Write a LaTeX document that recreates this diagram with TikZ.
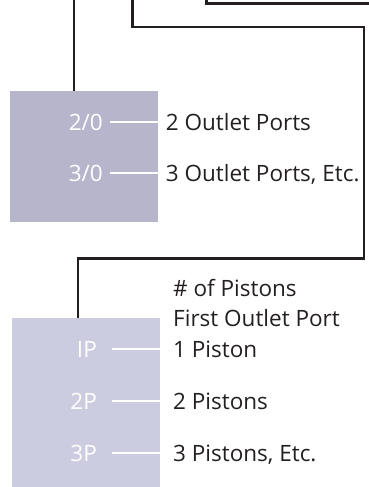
\documentclass[tikz,border=0pt]{standalone}
\usepackage{fontspec}
\setmainfont{Open Sans}
\definecolor{boxA}{HTML}{B6B5CC}
\definecolor{boxB}{HTML}{CCCCE0}
\definecolor{ink}{HTML}{231F20}
\begin{document}
\begin{tikzpicture}[x=1pt,y=-1pt,
  wire/.style={draw=ink,line width=2.6pt},
  tick/.style={draw=white,line width=1.3pt},
  panelA/.style={fill=boxA,draw=none,anchor=north west,inner sep=0pt},
  panelB/.style={fill=boxB,draw=none,anchor=north west,inner sep=0pt},
  code/.style={text=white,font=\fontsize{22.5}{26}\selectfont,anchor=base east,inner sep=0pt},
  desc/.style={text=ink,font=\fontsize{22.5}{26}\selectfont,anchor=base west,inner sep=0pt}]
\useasboundingbox (0,0) rectangle (369,487);
\clip (0,0) rectangle (369,487);
% panels
\node[panelA,minimum width=147.7pt,minimum height=130.7pt] (b1) at (10,91) {};
\node[panelB,minimum width=148pt,minimum height=172pt] (b2) at (12,318) {};
% connectors
\coordinate (t1) at (74,-5);
\coordinate (t2) at (132.7,-5);
\coordinate (t3) at (206.7,-5);
\coordinate (k2) at (364,27);
\coordinate (m2) at (78,258.3);
\coordinate (e3) at (380,3.5);
\draw[wire] (t1) -- (t1 |- b1.north);
\draw[wire] (t2) |- (k2) |- (m2) -- (m2 |- b2.north);
\draw[wire] (t3) |- (e3);
% codes
\node[code] (c20) at (103,130) {2/0};
\node[code] (c30) at (103,181) {3/0};
\node[code] (c1p) at (97,357) {IP};
\node[code] (c2p) at (97,409) {2P};
\node[code] (c3p) at (97,461) {3P};
% descriptions
\node[desc] (d20) at (165.7,130) {2 Outlet Ports};
\node[desc] (d30) at (165.7,181) {3 Outlet Ports, Etc.};
\node[desc] (dh) at (173,296) {\# of Pistons};
\node[desc] (df) at (173,326.5) {First Outlet Port};
\node[desc] (d1p) at (173,357) {1 Piston};
\node[desc] (d2p) at (173,409) {2 Pistons};
\node[desc] (d3p) at (173,461) {3 Pistons, Etc.};
% ticks
\draw[tick] ([xshift=7pt,yshift=8pt]c20.base east) -- ([yshift=8pt]c20.base east -| b1.east);
\draw[tick] ([xshift=7pt,yshift=8pt]c30.base east) -- ([yshift=8pt]c30.base east -| b1.east);
\draw[tick] ([xshift=14.7pt,yshift=8pt]c1p.base east) -- ([yshift=8pt]c1p.base east -| b2.east);
\draw[tick] ([xshift=14.7pt,yshift=8pt]c2p.base east) -- ([yshift=8pt]c2p.base east -| b2.east);
\draw[tick] ([xshift=14.7pt,yshift=8pt]c3p.base east) -- ([yshift=8pt]c3p.base east -| b2.east);
\end{tikzpicture}
\end{document}
